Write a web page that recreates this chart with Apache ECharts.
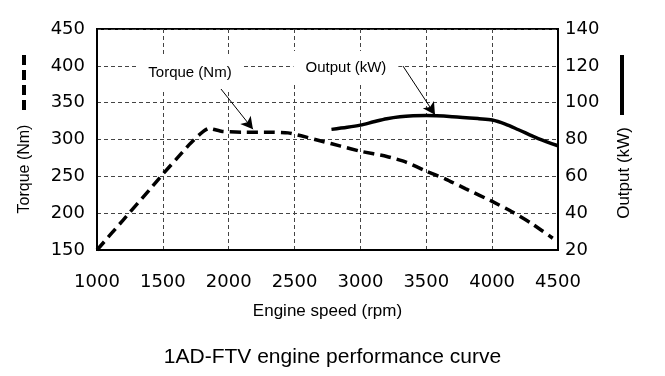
<!DOCTYPE html>
<html><head><meta charset="utf-8">
<script src="https://cdn.jsdelivr.net/npm/echarts@6/dist/echarts.min.js"></script>
<style>html,body{margin:0;padding:0;background:#fff}#c{width:665px;height:376px}</style>
</head><body><div id="c"></div>
<script>
const xTicks = [1000,1500,2000,2500,3000,3500,4000,4500];
const torqueRpm = [1000,1200,1400,1500,1600,1700,1780,1850,1950,2100,2300,2450,2550,2700,2850,3000,3200,3350,3500,3650,3800,4000,4150,4300,4460];
const torqueNm  = [150,191,232,253,273,293,307,315,311,310,310,309,305,298,291,284,277,269,257,246,233,216,202,186,166];
const outRpm = [2780,2900,3000,3100,3200,3300,3400,3500,3700,3900,4000,4100,4200,4350,4500];
const outKw  = [85.5,86.6,87.8,89.6,91.3,92.4,92.9,93.0,92.4,91.3,90.6,88.4,85.3,80.5,76.6];
const torqueLabel = 'Torque (Nm)';
const outputLabel = 'Output (kW)';
const xName = 'Engine speed (rpm)';
const title = '1AD-FTV engine performance curve';
const F = 'Liberation Sans, Arial, sans-serif';
const FT = 'DejaVu Sans, sans-serif';

const chart = echarts.init(document.getElementById('c'));
const lblStyle = {show:true, position:'inside', color:'#000', fontSize:15, fontFamily:F, backgroundColor:'#fff', padding:[9,12]};
chart.setOption({
  animation:false,
  title:{text:title, left:'center', top:342, textStyle:{fontSize:21, fontWeight:'normal', fontFamily:F, color:'#000'}},
  grid:{left:97, right:107, top:29, bottom:126, show:true, borderColor:'#000', borderWidth:2},
  xAxis:{type:'value', min:1000, max:4500, interval:500, name:xName, nameLocation:'middle', nameGap:53,
    nameTextStyle:{fontSize:17, fontFamily:F, color:'#000'},
    axisLine:{lineStyle:{color:'#000', width:2}}, axisTick:{show:false},
    axisLabel:{fontSize:18, fontFamily:FT, color:'#000', margin:23, formatter:v=>String(v)},
    splitLine:{show:true, lineStyle:{color:'#444', type:[4,3], width:1}}},
  yAxis:[
    {type:'value', min:150, max:450, interval:50,
     axisLine:{show:true, lineStyle:{color:'#000', width:2}}, axisTick:{show:false},
     axisLabel:{fontSize:18, fontFamily:FT, color:'#000', margin:12},
     splitLine:{show:true, lineStyle:{color:'#444', type:[4,3], width:1}}},
    {type:'value', min:20, max:140, interval:20, position:'right',
     axisLine:{show:true, lineStyle:{color:'#000', width:2}}, axisTick:{show:false},
     axisLabel:{fontSize:18, fontFamily:FT, color:'#000', margin:7},
     splitLine:{show:false}}
  ],
  series:[
    {type:'line', yAxisIndex:0, data:torqueRpm.map((r,i)=>[r,torqueNm[i]]), showSymbol:false, smooth:0.2,
     lineStyle:{color:'#000', width:3.5, type:[11,6]}, z:3,
     markLine:{silent:true, symbol:['none','arrow'], symbolSize:[10,12], lineStyle:{color:'#000', type:'solid', width:1}, label:{show:false},
       data:[[{coord:[1941,368.6]},{coord:[2184,314]}]]},
     markPoint:{silent:true, symbol:'circle', symbolSize:1, itemStyle:{color:'rgba(0,0,0,0)'}, label:lblStyle,
       data:[{coord:[1706,391], value:torqueLabel, label:{formatter:torqueLabel}}]}},
    {type:'line', yAxisIndex:1, data:outRpm.map((r,i)=>[r,outKw[i]]), showSymbol:false, smooth:0.3,
     lineStyle:{color:'#000', width:3.5}, z:3,
     markLine:{silent:true, symbol:['none','arrow'], symbolSize:[10,12], lineStyle:{color:'#000', type:'solid', width:1}, label:{show:false},
       data:[[{coord:[3323,119.9]},{coord:[3566,93.5]}]]},
     markPoint:{silent:true, symbol:'circle', symbolSize:1, itemStyle:{color:'rgba(0,0,0,0)'}, label:lblStyle,
       data:[{coord:[2890,119.1], value:outputLabel, label:{formatter:outputLabel}}]}}
  ],
  graphic:[
    {type:'line', shape:{x1:24,y1:55,x2:24,y2:114}, style:{stroke:'#000', lineWidth:4, lineDash:[10,5]}},
    {type:'text', x:25, y:169, rotation:Math.PI/2, style:{text:torqueLabel, fill:'#000', font:'16px '+F, textAlign:'center', textVerticalAlign:'middle'}},
    {type:'line', shape:{x1:622,y1:55,x2:622,y2:115}, style:{stroke:'#000', lineWidth:4}},
    {type:'text', x:624, y:173, rotation:Math.PI/2, style:{text:outputLabel, fill:'#000', font:'17px '+F, textAlign:'center', textVerticalAlign:'middle'}}
  ]
});
</script></body></html>
